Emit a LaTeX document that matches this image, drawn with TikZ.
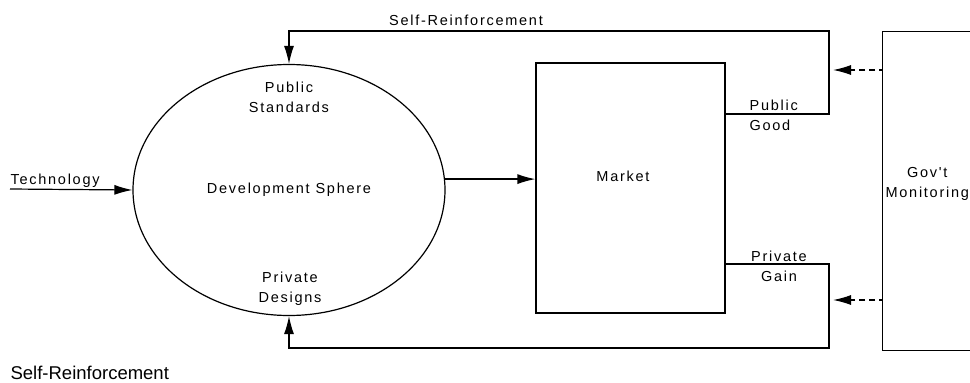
\documentclass[tikz,border=0pt]{standalone}
\usepackage{fontspec}
\setmainfont{Liberation Sans}
\newfontfamily\pixfont[LetterSpace=12]{Liberation Sans}
\usetikzlibrary{arrows.meta,shapes.geometric}
\begin{document}
\begin{tikzpicture}[x=1pt,y=-1pt,line width=1.2pt,
  lbl/.style={font=\pixfont\fontsize{14.5}{20}\selectfont, align=center, inner sep=0pt},
  tip/.style={-{Latex[length=18pt,width=10pt]}},
  dtip/.style={-{Latex[length=18pt,width=10pt]}, dash pattern=on 6pt off 4pt, dash phase=3pt},
  box/.style={draw, inner sep=0pt}]
\useasboundingbox (0,0) rectangle (970,383);
% shapes
\node[box, ellipse, minimum width=312pt, minimum height=251pt] (dev) at (289,190) {};
\node[box, minimum width=189pt, minimum height=250pt] (market) at (630.5,188) {};
\node[box, anchor=north west, minimum width=150pt, minimum height=319pt] (gov) at (882,31) {};
% helper coordinates
\coordinate (pgy) at (0,114);
\coordinate (topy) at (0,31);
\coordinate (loopx) at (829,0);
\coordinate (pvy) at (0,264);
\coordinate (boty) at (0,348);
\coordinate (tech) at (10,189);
\coordinate (d1) at (0,70);
\coordinate (d2) at (0,300);
\coordinate (tipx) at (833,0);
% connectors
\draw[tip] (market.east |- pgy) -- (loopx |- pgy) -- (loopx |- topy) -- (dev.north |- topy) -- (dev.north);
\draw[tip] (market.east |- pvy) -- (loopx |- pvy) -- (loopx |- boty) -- (dev.south |- boty) -- (dev.south);
\draw[tip] (dev.4) -- (market.west |- dev.4);
\draw[tip] (tech) -- (dev.west);
\draw[dtip] (gov.west |- d1) -- (tipx |- d1);
\draw[dtip] (gov.west |- d2) -- (tipx |- d2);
% labels
\node[lbl, anchor=south west] (techl) at (10,188) {Technology};
\node[lbl] (selftop) at (466,20) {Self-Reinforcement};
\node[lbl] (pubstd) at (289,97) {Public\\Standards};
\node[lbl] (devl) at (289,190) {Development Sphere};
\node[lbl] (privd) at (290,289) {Private\\Designs};
\node[lbl] (mkt) at (623,176) {Market};
\node[lbl, anchor=west, align=left] (pubg) at (749,115) {Public\\Good};
\node[lbl] (privg) at (779,266) {Private\\Gain};
\node[lbl, anchor=west] (govl) at (885,184) {Gov't\\Monitoring};
\node[font=\fontsize{18.5}{22}\selectfont, anchor=west, inner sep=0pt] (selfbot) at (10,373) {Self-Reinforcement};
\end{tikzpicture}
\end{document}
